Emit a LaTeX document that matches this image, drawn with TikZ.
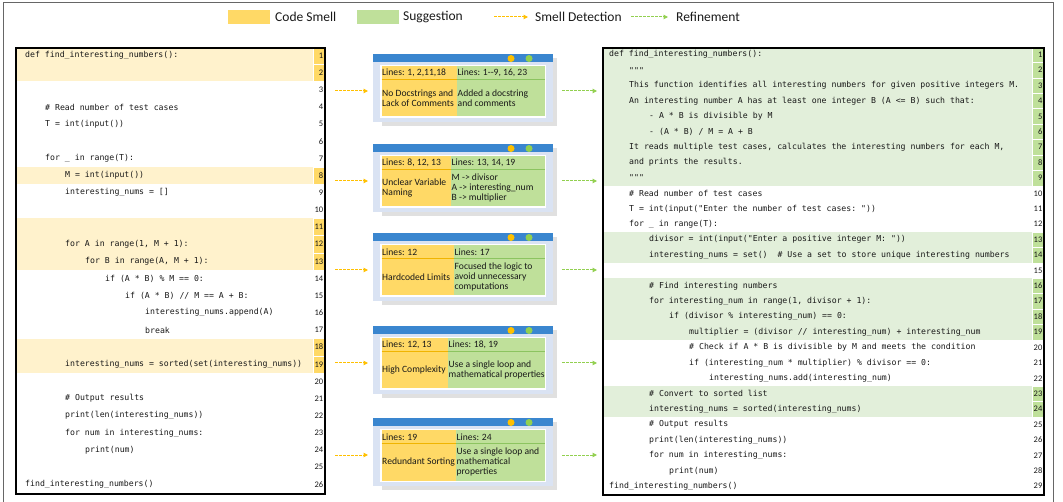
\documentclass[tikz,border=0pt]{standalone}
\usepackage{fontspec}
\setmainfont{Carlito}
\setmonofont{DejaVu Sans Mono}
\usetikzlibrary{arrows.meta}

\definecolor{smellbg}{HTML}{FFF2CC}
\definecolor{smell}{HTML}{FFD966}
\definecolor{smelldark}{HTML}{F0B400}
\definecolor{suggbg}{HTML}{E2EFDA}
\definecolor{sugg}{HTML}{BFE09A}
\definecolor{suggdark}{HTML}{8CC460}
\definecolor{titlebar}{HTML}{3A86CF}
\definecolor{cardframe}{HTML}{DAE3F3}
\definecolor{dotorange}{HTML}{FFC000}
\definecolor{dotgreen}{HTML}{92D050}

\tikzset{
  codeline/.style={anchor=west, inner sep=0pt, text=black!90, font=\fontsize{8.2}{9}\ttfamily},
  lineno/.style={anchor=east, inner sep=0pt, text=black!90, font=\fontsize{8.5}{9}\selectfont},
  cardtext/.style={anchor=west, inner sep=0pt, align=left, text=black!90, font=\fontsize{9.6}{10}\selectfont},
  legendtext/.style={anchor=west, inner sep=0pt, text=black!90, font=\fontsize{13.5}{14}\selectfont},
  smellarrow/.style={draw=dotorange, line width=1pt, dash pattern=on 2.5pt off 1.5pt, -{Triangle[length=4.5pt,width=4.5pt]}},
  refinearrow/.style={draw=dotgreen, line width=1pt, dash pattern=on 2.5pt off 1.5pt, -{Triangle[length=4.5pt,width=4.5pt]}}
}

% name, top, smell column width, smell lines, smell text, suggestion lines, suggestion text
\newcommand{\smellcard}[7]{%
  \fill[black!12] (382,#2+4) rectangle (557,#2+72);
  \node[fill=cardframe, inner sep=0pt, minimum width=180pt, minimum height=68pt, anchor=north west] (#1) at (373,#2) {};
  \fill[titlebar] (373,#2) rectangle (553,#2+8);
  \fill[dotorange] (511,#2+4.5) circle (3.5pt);
  \fill[dotgreen] (529,#2+4.5) circle (3.5pt);
  \fill[white] (380,#2+11) rectangle (546,#2+64);
  \fill[smell] (381.5,#2+12.5) rectangle (381.5+#3,#2+62.5);
  \fill[sugg] (381.5+#3,#2+12.5) rectangle (544.5,#2+62.5);
  \draw[smelldark, line width=0.8pt] (381.5,#2+25.5) -- (381.5+#3,#2+25.5);
  \draw[suggdark, line width=0.8pt] (381.5+#3,#2+25.5) -- (544.5,#2+25.5);
  \node[cardtext] (#1-sl) at (382,#2+19) {Lines: #4};
  \node[cardtext] (#1-st) at (382,#2+44) {#5};
  \node[cardtext] (#1-gl) at (382.5+#3,#2+19) {Lines: #6};
  \node[cardtext] (#1-gt) at (382.5+#3,#2+44) {#7};
  \coordinate (#1-in) at (368,#2+37);
  \coordinate (#1-out) at (562,#2+37);
}

\begin{document}
\begin{tikzpicture}[x=1pt, y=-1pt]
\useasboundingbox (0,0) rectangle (1063,502);
\draw[black!60, line width=0.8pt] (3,503) -- (3,2.5) -- (1053.5,2.5) -- (1053.5,503);

% legend
\node[fill=smell, inner sep=0pt, minimum width=42pt, minimum height=14pt, anchor=west] (keysmell) at (228,17) {};
\node[legendtext] (keysmelltxt) at (275,17) {Code Smell};
\node[fill=sugg, inner sep=0pt, minimum width=42pt, minimum height=14pt, anchor=west] (keysugg) at (357,17) {};
\node[legendtext] (keysuggtxt) at (403,17) {Suggestion};
\coordinate (keydet0) at (494,17);
\coordinate (keydet1) at (528,17);
\draw[smellarrow] (keydet0) -- (keydet1);
\node[legendtext] (keydettxt) at (535,17) {Smell Detection};
\coordinate (keyref0) at (631,17);
\coordinate (keyref1) at (668,17);
\draw[refinearrow] (keyref0) -- (keyref1);
\node[legendtext] (keyreftxt) at (676,17) {Refinement};

% original code
\foreach \r in {1,2,8,11,12,13,18,19} {
  \fill[smellbg] (15,{47+(\r-1)*17.15}) rectangle (313,{47+\r*17.15});
  \filldraw[fill=smell, draw=white, line width=0.3pt] (313,{47+(\r-1)*17.15}) rectangle (324,{47+\r*17.15});
}
\foreach \r in {1,...,26}
  \node[lineno] (ln\r) at (323.5,{47+(\r-0.5)*17.15}) {\r};
\foreach \r/\i/\t in {
  1/0/{def find\_interesting\_numbers():},
  4/1/{\# Read number of test cases},
  5/1/{T = int(input())},
  7/1/{for \_ in range(T):},
  8/2/{M = int(input())},
  9/2/{interesting\_nums = []},
  12/2/{for A in range(1, M + 1):},
  13/3/{for B in range(A, M + 1):},
  14/4/{if (A * B) \% M == 0:},
  15/5/{if (A * B) // M == A + B:},
  16/6/{interesting\_nums.append(A)},
  17/6/{break},
  19/2/{interesting\_nums = sorted(set(interesting\_nums))},
  21/2/{\# Output results},
  22/2/{print(len(interesting\_nums))},
  23/2/{for num in interesting\_nums:},
  24/3/{print(num)},
  26/0/{find\_interesting\_numbers()}}
  \node[codeline] (lc\r) at ({25+20*\i},{47+(\r-0.5)*17.15}) {\t};
\node[draw=black, line width=2pt, inner sep=0pt, minimum width=309pt, minimum height=446pt, anchor=north west] (oldcode) at (15,47) {};

% refined code
\foreach \r in {1,...,9,13,14,16,17,18,19,23,24} {
  \fill[suggbg] (602,{47+(\r-1)*15.41}) rectangle (1032,{47+\r*15.41});
  \filldraw[fill=sugg, draw=white, line width=0.3pt] (1032,{47+(\r-1)*15.41}) rectangle (1043,{47+\r*15.41});
}
\foreach \r in {1,...,29}
  \node[lineno] (rn\r) at (1042.5,{47+(\r-0.5)*15.41}) {\r};
\foreach \r/\i/\t in {
  1/0/{def find\_interesting\_numbers():},
  2/1/{"""},
  3/1/{This function identifies all interesting numbers for given positive integers M.},
  4/1/{An interesting number A has at least one integer B (A <= B) such that:},
  5/2/{- A * B is divisible by M},
  6/2/{- (A * B) / M = A + B},
  7/1/{It reads multiple test cases, calculates the interesting numbers for each M,},
  8/1/{and prints the results.},
  9/1/{"""},
  10/1/{\# Read number of test cases},
  11/1/{T = int(input("Enter the number of test cases: "))},
  12/1/{for \_ in range(T):},
  13/2/{divisor = int(input("Enter a positive integer M: "))},
  14/2/{interesting\_nums = set()~~\# Use a set to store unique interesting numbers},
  16/2/{\# Find interesting numbers},
  17/2/{for interesting\_num in range(1, divisor + 1):},
  18/3/{if (divisor \% interesting\_num) == 0:},
  19/4/{multiplier = (divisor // interesting\_num) + interesting\_num},
  20/4/{\# Check if A * B is divisible by M and meets the condition},
  21/4/{if (interesting\_num * multiplier) \% divisor == 0:},
  22/5/{interesting\_nums.add(interesting\_num)},
  23/2/{\# Convert to sorted list},
  24/2/{interesting\_nums = sorted(interesting\_nums)},
  25/2/{\# Output results},
  26/2/{print(len(interesting\_nums))},
  27/2/{for num in interesting\_nums:},
  28/3/{print(num)},
  29/0/{find\_interesting\_numbers()}}
  \node[codeline] (rc\r) at ({609+20*\i},{47+(\r-0.5)*15.41}) {\t};
\node[draw=black, line width=2pt, inner sep=0pt, minimum width=441pt, minimum height=447pt, anchor=north west] (newcode) at (602,47) {};

% smell cards
\smellcard{docs}{54}{75}{1, 2,11,18}{No Docstrings and\\Lack of Comments}{1{-}{-}9, 16, 23}{Added a docstring\\and comments}
\smellcard{naming}{144}{69}{8, 12, 13}{Unclear Variable\\Naming}{13, 14, 19}{M -> divisor\\A -> interesting\_num\\B -> multiplier}
\smellcard{limits}{233}{72}{12}{Hardcoded Limits}{17}{Focused the logic to\\avoid unnecessary\\computations}
\smellcard{complex}{326}{66}{12, 13}{High Complexity}{18, 19}{Use a single loop and\\mathematical properties}
\smellcard{sorting}{418}{74}{19}{Redundant Sorting}{24}{Use a single loop and\\mathematical\\properties}

\foreach \c in {docs,naming,limits,complex,sorting} {
  \draw[smellarrow] ([xshift=9pt]oldcode.east |- \c-in) -- (\c-in);
  \draw[refinearrow] (\c-out) -- ([xshift=-5pt]newcode.west |- \c-out);
}
\end{tikzpicture}
\end{document}
